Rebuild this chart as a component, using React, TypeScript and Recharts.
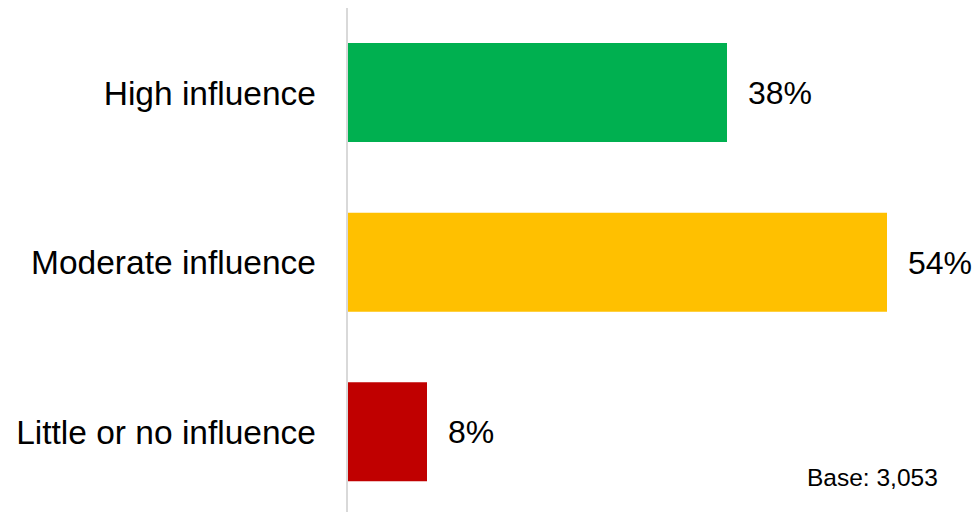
import { BarChart, Bar, XAxis, YAxis, Cell, LabelList } from "recharts";

const categories = ["High influence", "Moderate influence", "Little or no influence"];
const shares = [38, 54, 8];
const barColors = ["#00B050", "#FFC000", "#C00000"];
const baseNote = "Base: 3,053";

const data = categories.map((name, i) => ({ name, value: shares[i] }));

const font = "'Liberation Sans', Arial, sans-serif";

export default function App() {
  return (
    <div style={{ position: "absolute", left: 0, top: 0, width: 975, height: 512, overflow: "hidden", background: "#fff" }}>
      <BarChart
        width={975}
        height={512}
        data={data}
        layout="vertical"
        margin={{ top: 8, right: 28, bottom: -5, left: 0 }}
      >
        <XAxis type="number" domain={[0, 60]} hide />
        <YAxis
          type="category"
          dataKey="name"
          width={347}
          tickLine={false}
          tickSize={0}
          tickMargin={31}
          axisLine={{ stroke: "#D9D9D9", strokeWidth: 2 }}
          tick={{ fill: "#000", fontSize: 33.5, fontFamily: font }}
        />
        <Bar dataKey="value" barSize={99} isAnimationActive={false}>
          {data.map((_, i) => (
            <Cell key={i} fill={barColors[i]} />
          ))}
          <LabelList
            dataKey="value"
            position="right"
            offset={21}
            formatter={(v: any) => `${v}%`}
            style={{ fill: "#000", fontSize: 32, fontFamily: font }}
          />
        </Bar>
      </BarChart>
      <svg width={975} height={512} style={{ position: "absolute", left: 0, top: 0, pointerEvents: "none" }}>
        <text x={807} y={486} fontSize={24.5} fontFamily={font} fill="#000">
          {baseNote}
        </text>
      </svg>
    </div>
  );
}
